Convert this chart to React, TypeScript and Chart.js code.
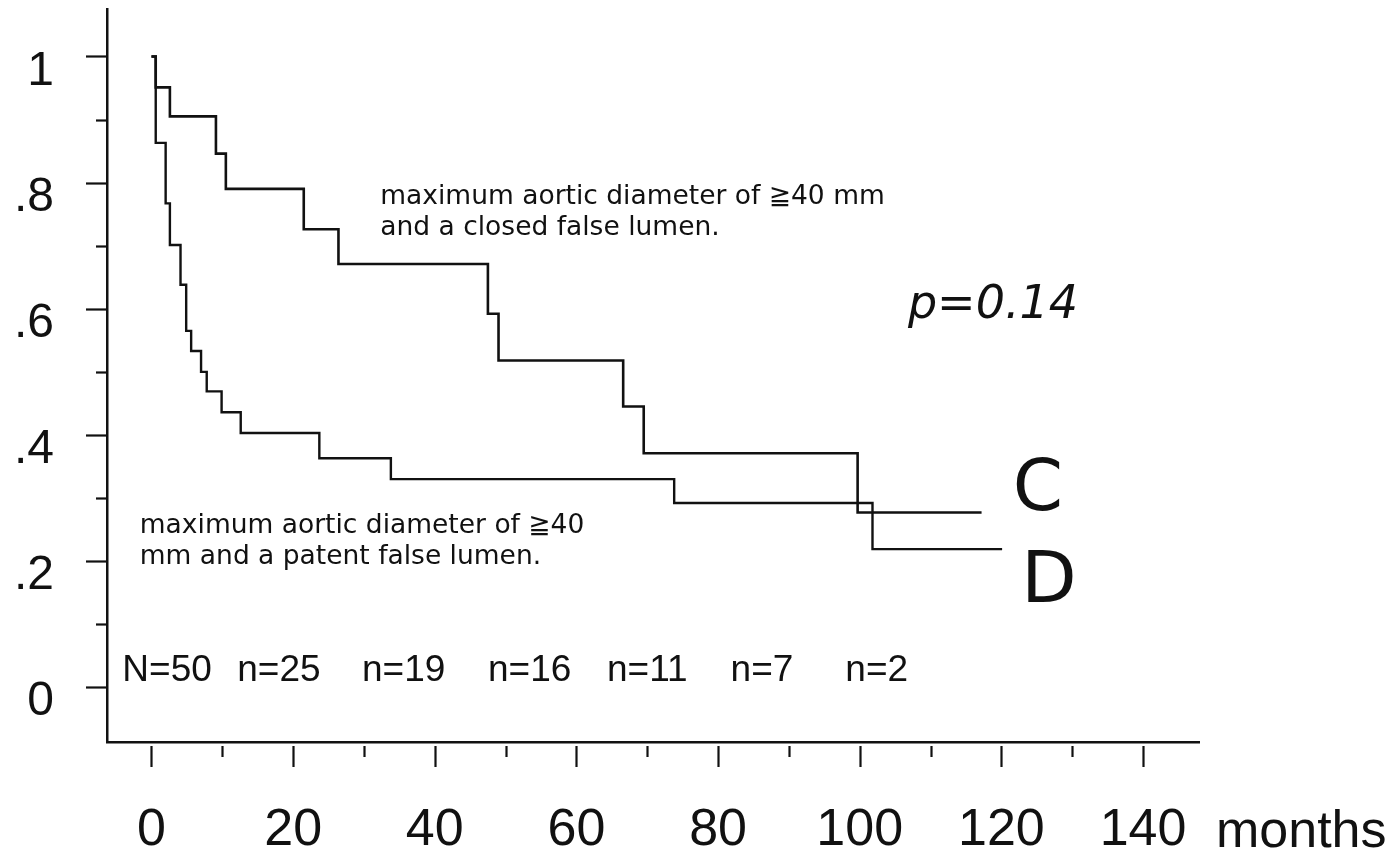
import React, { useEffect, useRef } from 'react';
import { Chart, registerables } from 'chart.js';

Chart.register(...registerables);

// ---- Data ----
const curveCMonths = [0, 0.6, 2.6, 9.1, 10.5, 21.5, 26.4, 47.5, 49.0, 66.6, 69.5, 99.7, 117.2];
const curveCSurvival = [1, 0.951, 0.905, 0.846, 0.79, 0.726, 0.671, 0.592, 0.518, 0.445, 0.371, 0.277, 0.277];

const curveDMonths = [0, 0.6, 2.0, 2.6, 4.1, 4.9, 5.6, 7.0, 7.8, 9.9, 12.6, 23.7, 33.8, 73.8, 101.8, 120.1];
const curveDSurvival = [1, 0.863, 0.767, 0.701, 0.638, 0.565, 0.533, 0.5, 0.469, 0.436, 0.403, 0.363, 0.33, 0.292, 0.219, 0.219];

const xTickValues = [0, 20, 40, 60, 80, 100, 120, 140];
const xTickLabels = ['0', '20', '40', '60', '80', '100', '120', '140'];
const xMinorTickValues = [10, 30, 50, 70, 90, 110, 130];

const yTickValues = [0, 0.2, 0.4, 0.6, 0.8, 1];
const yTickLabels = ['0', '.2', '.4', '.6', '.8', '1'];
const yMinorTickValues = [0.1, 0.3, 0.5, 0.7, 0.9];

const atRiskLabels = ['N=50', 'n=25', 'n=19', 'n=16', 'n=11', 'n=7', 'n=2'];
const atRiskMonths = [2.2, 18.0, 35.6, 53.4, 70.0, 86.2, 102.4];

const closedLabelLines = ['maximum aortic diameter of \u226740 mm', 'and a closed false lumen.'];
const patentLabelLines = ['maximum aortic diameter of \u226740', 'mm and a patent false lumen.'];
const pValueText = 'p=0.14';
const curveCName = 'C';
const curveDName = 'D';
const xUnitText = 'months';

const INK = '#111111';
const SANS = '"Liberation Sans", Arial, Helvetica, sans-serif';
const ANNO = '"DejaVu Sans", Verdana, sans-serif';

const decorPlugin = {
  id: 'kmDecor',
  afterDraw(chart: any) {
    const ctx = chart.ctx as CanvasRenderingContext2D;
    const xs = chart.scales.x;
    const ys = chart.scales.y;
    const area = chart.chartArea;
    ctx.save();
    ctx.strokeStyle = INK;
    ctx.fillStyle = INK;
    ctx.lineWidth = 2.2;
    ctx.lineCap = 'butt';
    // x tick marks (detached below the axis line)
    const drawX = (v: number, len: number) => {
      const px = Math.round(xs.getPixelForValue(v)) + 0.5;
      ctx.beginPath();
      ctx.moveTo(px, area.bottom + 4);
      ctx.lineTo(px, area.bottom + 4 + len);
      ctx.stroke();
    };
    xTickValues.forEach((v) => drawX(v, 21));
    xMinorTickValues.forEach((v) => drawX(v, 11));
    // y tick marks (outside, left of the axis)
    const drawY = (v: number, len: number) => {
      const py = Math.round(ys.getPixelForValue(v)) + 0.5;
      ctx.beginPath();
      ctx.moveTo(area.left, py);
      ctx.lineTo(area.left - len, py);
      ctx.stroke();
    };
    yTickValues.forEach((v) => drawY(v, 21));
    yMinorTickValues.forEach((v) => drawY(v, 11));

    // unit label
    ctx.font = `52px ${SANS}`;
    ctx.textAlign = 'left';
    ctx.textBaseline = 'alphabetic';
    ctx.fillText(xUnitText, area.right + 17, area.bottom + 105);

    // at-risk numbers
    ctx.font = `37px ${SANS}`;
    ctx.textAlign = 'center';
    atRiskLabels.forEach((t, i) => {
      ctx.fillText(t, xs.getPixelForValue(atRiskMonths[i]), ys.getPixelForValue(0.0) - 6);
    });

    // curve descriptions
    ctx.font = `26.5px ${ANNO}`;
    ctx.textAlign = 'left';
    closedLabelLines.forEach((t, i) => {
      ctx.fillText(t, xs.getPixelForValue(32.3), ys.getPixelForValue(0.766) + i * 30.7);
    });
    patentLabelLines.forEach((t, i) => {
      ctx.fillText(t, xs.getPixelForValue(-1.65), ys.getPixelForValue(0.244) + i * 30.7);
    });

    // p value
    ctx.font = `italic 46px ${ANNO}`;
    ctx.fillText(pValueText, xs.getPixelForValue(106.8), ys.getPixelForValue(0.585));

    // curve names
    ctx.font = `72px ${ANNO}`;
    ctx.fillText(curveCName, xs.getPixelForValue(121.6), ys.getPixelForValue(0.281));
    ctx.fillText(curveDName, xs.getPixelForValue(122.8), ys.getPixelForValue(0.135));
    ctx.restore();
  },
};

export default function App() {
  const canvasRef = useRef<HTMLCanvasElement | null>(null);

  useEffect(() => {
    if (!canvasRef.current) return;
    const chart = new Chart(canvasRef.current, {
      type: 'line',
      data: {
        datasets: [
          {
            label: curveCName,
            data: curveCMonths.map((m, i) => ({ x: m, y: curveCSurvival[i] })),
            borderColor: INK,
            borderWidth: 2.6,
            stepped: 'before',
            pointRadius: 0,
            fill: false,
          },
          {
            label: curveDName,
            data: curveDMonths.map((m, i) => ({ x: m, y: curveDSurvival[i] })),
            borderColor: INK,
            borderWidth: 2.4,
            stepped: 'before',
            pointRadius: 0,
            fill: false,
          },
        ],
      },
      options: {
        animation: false,
        responsive: false,
        devicePixelRatio: 1,
        layout: { padding: { left: 0, top: 9, right: 199, bottom: 0 } },
        plugins: { legend: { display: false }, tooltip: { enabled: false } },
        scales: {
          x: {
            type: 'linear',
            min: -6.28,
            max: 147.9,
            afterBuildTicks: (scale: any) => {
              scale.ticks = xTickValues.map((v) => ({ value: v }));
            },
            afterFit: (scale: any) => {
              scale.height = 112;
              scale.paddingLeft = 0;
              scale.paddingRight = 0;
            },
            grid: { display: false, drawTicks: false },
            border: { display: true, color: INK, width: 2.5 },
            ticks: {
              color: INK,
              font: { family: SANS, size: 52 },
              padding: 57,
              maxRotation: 0,
              autoSkip: false,
              callback: (_v: any, i: number) => xTickLabels[i],
            },
          },
          y: {
            type: 'linear',
            min: -0.0868,
            max: 1.0752,
            afterBuildTicks: (scale: any) => {
              scale.ticks = yTickValues.map((v) => ({ value: v }));
            },
            afterFit: (scale: any) => {
              scale.width = 107;
              scale.paddingTop = 0;
              scale.paddingBottom = 0;
            },
            grid: { display: false, drawTicks: false },
            border: { display: true, color: INK, width: 2.5 },
            ticks: {
              color: INK,
              font: { family: SANS, size: 48 },
              padding: 53,
              labelOffset: 15,
              autoSkip: false,
              callback: (_v: any, i: number) => yTickLabels[i],
            },
          },
        },
      },
      plugins: [decorPlugin],
    });
    return () => chart.destroy();
  }, []);

  return (
    <div style={{ position: 'fixed', left: 0, top: 0, width: 1398, height: 854, background: '#fff' }}>
      <canvas ref={canvasRef} width={1398} height={854} />
    </div>
  );
}
